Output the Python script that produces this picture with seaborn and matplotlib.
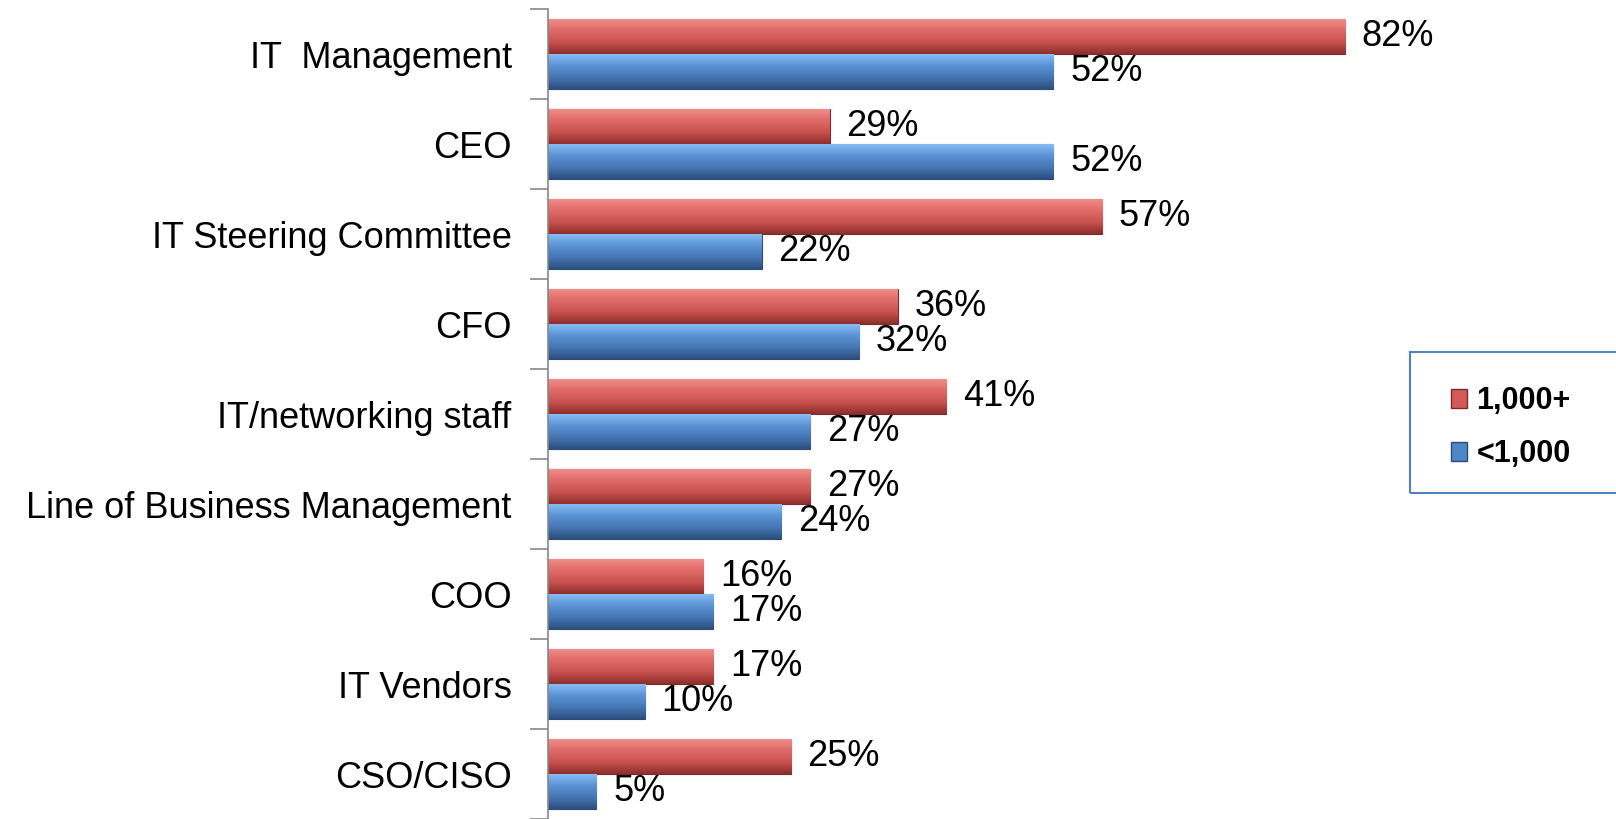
import numpy as np
import pandas as pd
import matplotlib
matplotlib.use('Agg')
import matplotlib.pyplot as plt
import seaborn as sns
from matplotlib.colors import LinearSegmentedColormap
from matplotlib.patches import Rectangle

# --- data ---
roles = ['IT  Management', 'CEO', 'IT Steering Committee', 'CFO', 'IT/networking staff',
         'Line of Business Management', 'COO', 'IT Vendors', 'CSO/CISO']
large = [82, 29, 57, 36, 41, 27, 16, 17, 25]
small = [52, 52, 22, 32, 27, 24, 17, 10, 5]
groups = ['1,000+', '<1,000']

df = pd.DataFrame({
    'role': roles * 2,
    'pct': large + small,
    'size': [groups[0]] * len(roles) + [groups[1]] * len(roles),
})

sns.set_theme(style='white')
plt.rcParams['font.family'] = ['Liberation Sans', 'DejaVu Sans']
plt.rcParams['text.color'] = 'black'
plt.rcParams['ytick.color'] = 'black'

red = '#D45A58'
blue = '#4F86C6'
palette = {groups[0]: red, groups[1]: blue}

fig = plt.figure(figsize=(16.16, 8.19), dpi=100)
ax = fig.add_axes([0.339, 0.0, 0.6016, 0.989])

sns.barplot(data=df, y='role', x='pct', hue='size', order=roles, hue_order=groups,
            palette=palette, orient='h', width=0.78, saturation=1, legend=False, ax=ax)

# shaded "bevel" look on each bar
grad = np.linspace(0, 1, 64).reshape(-1, 1)
cmaps = {
    red: LinearSegmentedColormap.from_list('r', ['#F08F8C', '#E06B68', '#C9524F', '#8E2F2D']),
    blue: LinearSegmentedColormap.from_list('b', ['#8CC0F5', '#5B94D6', '#4677B5', '#2D4F7F']),
}
for cont, col in zip(ax.containers, [red, blue]):
    for p in cont:
        x0, y0 = p.get_x(), p.get_y()
        w, h = p.get_width(), p.get_height()
        im = ax.imshow(grad, extent=[x0, x0 + w, y0 + h, y0], aspect='auto',
                       cmap=cmaps[col], zorder=p.get_zorder() + 0.1, interpolation='bilinear')
        im.set_clip_path(p)
        p.set_edgecolor('#7A2A28' if col == red else '#2D4A73')
        p.set_linewidth(0.8)
    ax.bar_label(cont, labels=[f'{int(v)}%' for v in cont.datavalues], padding=12,
                 fontsize=26, color='black')

ax.set_xlim(0, 100)
ax.set_ylim(len(roles) - 0.5, -0.5)

ax.set_xlabel('')
ax.set_ylabel('')
ax.set_xticks([])
ax.tick_params(axis='y', which='major', left=False, labelsize=26, pad=20)
ax.set_yticks(np.arange(len(roles) + 1) - 0.5, minor=True)
ax.tick_params(axis='y', which='minor', left=True, length=13, width=1.2,
               color='#888888', direction='out')
for s in ['top', 'right', 'bottom']:
    ax.spines[s].set_visible(False)
ax.spines['left'].set_color('#888888')
ax.spines['left'].set_linewidth(1.2)

# legend box, cut off by the right edge
fig.patches.append(Rectangle((1410 / 1616, 1 - 493 / 819), 0.2, 141 / 819,
                             transform=fig.transFigure, fill=False,
                             edgecolor='#4F81BD', linewidth=1.5))
handles = [Rectangle((0, 0), 1, 1, facecolor=red, edgecolor='#7A2A28'),
           Rectangle((0, 0), 1, 1, facecolor=blue, edgecolor='#2D4A73')]
fig.legend(handles, groups, loc='upper left', bbox_to_anchor=(1423 / 1616, 1 - 359 / 819),
           frameon=False, prop={'size': 22, 'weight': 'bold'}, handlelength=0.55,
           handleheight=0.55, handletextpad=0.3, labelspacing=0.75)

fig.savefig('out.png', dpi=100)
